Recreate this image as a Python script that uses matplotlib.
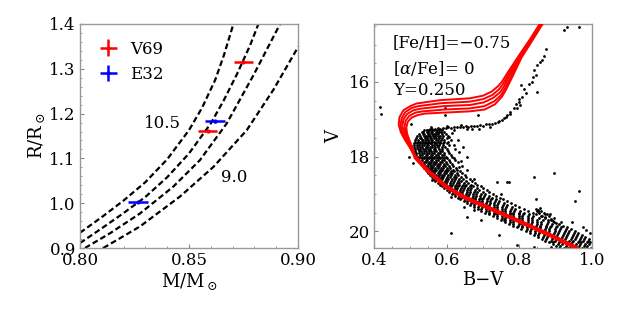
import numpy as np
import matplotlib
matplotlib.use("Agg")
import matplotlib.pyplot as plt
from matplotlib.ticker import AutoMinorLocator, MultipleLocator

plt.rcParams["font.family"] = ["DejaVu Serif"]
plt.rcParams["mathtext.fontset"] = "dejavuserif"

# ---- left panel: mass-radius, isochrones 9.0 .. 10.5 Gyr
iso1_m = [0.800, 0.810, 0.820, 0.830, 0.840, 0.850, 0.856, 0.862, 0.866, 0.8705]
iso1_r = [0.934, 0.969, 1.006, 1.047, 1.098, 1.163, 1.213, 1.275, 1.330, 1.402]
iso2_m = [0.800, 0.810, 0.820, 0.830, 0.840, 0.850, 0.860, 0.866, 0.872, 0.878, 0.882]
iso2_r = [0.911, 0.944, 0.978, 1.014, 1.058, 1.111, 1.178, 1.230, 1.288, 1.352, 1.402]
iso3_m = [0.8023, 0.8138, 0.8275, 0.8428, 0.855, 0.8673, 0.8795, 0.8920]
iso3_r = [0.900, 0.933, 0.977, 1.037, 1.096, 1.178, 1.285, 1.402]
iso4_m = [0.8107, 0.8275, 0.8459, 0.8612, 0.8765, 0.8887, 0.9001]
iso4_r = [0.900, 0.948, 1.015, 1.081, 1.163, 1.253, 1.349]

v69_m = [0.875, 0.8585]
v69_r = [1.315, 1.161]
v69_merr = [0.0045, 0.0045]
v69_rerr = [0.003, 0.003]
e32_m = [0.862, 0.8265]
e32_r = [1.183, 1.003]
e32_merr = [0.0045, 0.0045]
e32_rerr = [0.003, 0.003]

# ---- right panel: CMD
# shared lower main sequence of the isochrones
ms_bv = [0.960, 0.884, 0.792, 0.698, 0.650, 0.598, 0.550, 0.512]
ms_v = [20.46, 20.10, 19.70, 19.30, 19.10, 18.80, 18.40, 18.00]
isoA_bv = [0.498, 0.485, 0.474, 0.468, 0.470, 0.481, 0.500, 0.517, 0.582, 0.664, 0.700, 0.724, 0.741, 0.752, 0.768, 0.785, 0.804, 0.830, 0.858]
isoA_v = [17.75, 17.55, 17.35, 17.15, 16.95, 16.76, 16.65, 16.58, 16.49, 16.44, 16.37, 16.26, 16.12, 16.00, 15.75, 15.50, 15.22, 14.85, 14.42]
isoB_bv = [0.500, 0.488, 0.478, 0.473, 0.476, 0.486, 0.504, 0.522, 0.586, 0.664, 0.701, 0.726, 0.744, 0.755, 0.770, 0.786, 0.805, 0.831, 0.860]
isoB_v = [17.75, 17.55, 17.36, 17.17, 16.98, 16.81, 16.70, 16.65, 16.57, 16.53, 16.46, 16.35, 16.20, 16.06, 15.80, 15.55, 15.26, 14.87, 14.42]
isoC_bv = [0.502, 0.491, 0.483, 0.478, 0.481, 0.491, 0.509, 0.527, 0.591, 0.664, 0.702, 0.728, 0.747, 0.758, 0.771, 0.787, 0.805, 0.832, 0.862]
isoC_v = [17.75, 17.55, 17.37, 17.19, 17.01, 16.86, 16.76, 16.72, 16.65, 16.62, 16.55, 16.43, 16.28, 16.12, 15.86, 15.60, 15.29, 14.89, 14.42]
isoD_bv = [0.504, 0.494, 0.487, 0.484, 0.487, 0.497, 0.515, 0.534, 0.596, 0.664, 0.704, 0.731, 0.750, 0.761, 0.773, 0.788, 0.806, 0.833, 0.864]
isoD_v = [17.75, 17.55, 17.37, 17.20, 17.04, 16.91, 16.82, 16.79, 16.74, 16.71, 16.65, 16.52, 16.35, 16.17, 15.93, 15.65, 15.32, 14.90, 14.42]
isoE_bv = [0.506, 0.497, 0.491, 0.489, 0.493, 0.503, 0.520, 0.540, 0.600, 0.664, 0.705, 0.733, 0.752, 0.764, 0.774, 0.789, 0.806, 0.834, 0.866]
isoE_v = [17.75, 17.55, 17.38, 17.22, 17.07, 16.96, 16.89, 16.85, 16.82, 16.79, 16.74, 16.60, 16.40, 16.20, 16.00, 15.70, 15.35, 14.92, 14.42]

# cluster stars, main sequence band read row by row (V, list of B-V)
ms_rows = [
    (17.30, [0.538, 0.547, 0.552, 0.560, 0.565, 0.573, 0.578, 0.587]),
    (17.35, [0.531, 0.536, 0.546, 0.550, 0.557, 0.561, 0.570, 0.574, 0.584, 0.593]),
    (17.40, [0.524, 0.534, 0.539, 0.548, 0.552, 0.559, 0.564, 0.572, 0.577, 0.587, 0.598]),
    (17.45, [0.519, 0.527, 0.537, 0.542, 0.550, 0.555, 0.562, 0.567, 0.575, 0.581, 0.591, 0.603]),
    (17.50, [0.516, 0.526, 0.530, 0.540, 0.545, 0.553, 0.557, 0.566, 0.570, 0.580, 0.587, 0.600]),
    (17.55, [0.514, 0.521, 0.531, 0.535, 0.543, 0.548, 0.556, 0.561, 0.570, 0.575, 0.585, 0.594, 0.611]),
    (17.60, [0.512, 0.521, 0.526, 0.535, 0.540, 0.548, 0.552, 0.561, 0.566, 0.575, 0.581, 0.592, 0.604]),
    (17.65, [0.511, 0.518, 0.527, 0.532, 0.540, 0.545, 0.553, 0.558, 0.567, 0.572, 0.582, 0.589, 0.601]),
    (17.70, [0.510, 0.519, 0.524, 0.533, 0.537, 0.546, 0.550, 0.559, 0.564, 0.573, 0.579, 0.590, 0.606]),
    (17.75, [0.511, 0.518, 0.528, 0.533, 0.542, 0.547, 0.555, 0.560, 0.569, 0.575, 0.586, 0.596]),
    (17.80, [0.512, 0.521, 0.527, 0.536, 0.541, 0.550, 0.555, 0.564, 0.569, 0.579, 0.586, 0.601, 0.622]),
    (17.85, [0.513, 0.523, 0.529, 0.538, 0.543, 0.552, 0.557, 0.566, 0.571, 0.581, 0.588, 0.604]),
    (17.90, [0.515, 0.523, 0.533, 0.538, 0.547, 0.552, 0.561, 0.566, 0.575, 0.581, 0.593, 0.606]),
    (17.95, [0.517, 0.527, 0.533, 0.542, 0.547, 0.556, 0.561, 0.570, 0.576, 0.586, 0.594, 0.611]),
    (18.00, [0.520, 0.528, 0.537, 0.542, 0.551, 0.556, 0.565, 0.570, 0.580, 0.587, 0.599, 0.614]),
    (18.05, [0.522, 0.532, 0.538, 0.547, 0.552, 0.561, 0.566, 0.575, 0.581, 0.592, 0.601, 0.621]),
    (18.10, [0.525, 0.533, 0.542, 0.547, 0.556, 0.561, 0.570, 0.576, 0.586, 0.593, 0.607, 0.624]),
    (18.15, [0.528, 0.538, 0.543, 0.552, 0.557, 0.566, 0.571, 0.581, 0.587, 0.598, 0.608, 0.631]),
    (18.20, [0.531, 0.539, 0.548, 0.553, 0.562, 0.567, 0.577, 0.583, 0.593, 0.600, 0.614]),
    (18.25, [0.535, 0.544, 0.549, 0.558, 0.563, 0.573, 0.579, 0.589, 0.595, 0.607, 0.617, 0.641]),
    (18.30, [0.538, 0.546, 0.555, 0.560, 0.569, 0.575, 0.585, 0.591, 0.602, 0.610, 0.625]),
    (18.35, [0.542, 0.551, 0.557, 0.566, 0.572, 0.582, 0.588, 0.598, 0.605, 0.617, 0.629]),
    (18.40, [0.546, 0.553, 0.563, 0.569, 0.579, 0.585, 0.595, 0.601, 0.612, 0.620, 0.637]),
    (18.45, [0.550, 0.560, 0.566, 0.576, 0.582, 0.592, 0.598, 0.608, 0.615, 0.628, 0.641]),
    (18.50, [0.554, 0.562, 0.572, 0.578, 0.588, 0.594, 0.605, 0.612, 0.623, 0.632, 0.651]),
    (18.55, [0.559, 0.569, 0.575, 0.585, 0.591, 0.601, 0.608, 0.619, 0.627, 0.640, 0.654]),
    (18.60, [0.564, 0.572, 0.582, 0.588, 0.598, 0.605, 0.616, 0.623, 0.635, 0.645, 0.663]),
    (18.65, [0.569, 0.579, 0.585, 0.595, 0.602, 0.613, 0.620, 0.631, 0.639, 0.653, 0.669]),
    (18.70, [0.575, 0.583, 0.593, 0.599, 0.610, 0.617, 0.628, 0.635, 0.648, 0.658, 0.678]),
    (18.75, [0.581, 0.591, 0.597, 0.608, 0.615, 0.626, 0.633, 0.644, 0.653, 0.667, 0.684]),
    (18.80, [0.587, 0.595, 0.606, 0.613, 0.624, 0.631, 0.642, 0.650, 0.663, 0.673, 0.694]),
    (18.85, [0.594, 0.604, 0.611, 0.622, 0.629, 0.640, 0.647, 0.659, 0.668, 0.683, 0.700]),
    (18.90, [0.600, 0.609, 0.620, 0.627, 0.638, 0.645, 0.657, 0.665, 0.678, 0.689, 0.711]),
    (18.95, [0.607, 0.618, 0.625, 0.636, 0.643, 0.655, 0.663, 0.675, 0.684, 0.699, 0.717]),
    (19.00, [0.615, 0.624, 0.635, 0.642, 0.653, 0.661, 0.673, 0.681, 0.695, 0.706, 0.728, 0.749]),
    (19.05, [0.622, 0.633, 0.641, 0.652, 0.660, 0.672, 0.680, 0.692, 0.702, 0.717, 0.735]),
    (19.10, [0.630, 0.639, 0.651, 0.659, 0.671, 0.679, 0.691, 0.699, 0.713, 0.725, 0.747]),
    (19.15, [0.638, 0.650, 0.658, 0.670, 0.678, 0.690, 0.698, 0.711, 0.721, 0.737, 0.755]),
    (19.20, [0.647, 0.657, 0.669, 0.677, 0.689, 0.697, 0.710, 0.719, 0.733, 0.745, 0.767]),
    (19.25, [0.656, 0.668, 0.676, 0.688, 0.696, 0.709, 0.718, 0.731, 0.741, 0.758, 0.776]),
    (19.30, [0.665, 0.675, 0.688, 0.696, 0.708, 0.717, 0.730, 0.739, 0.754, 0.767, 0.789]),
    (19.35, [0.675, 0.687, 0.696, 0.708, 0.716, 0.729, 0.738, 0.752, 0.763, 0.780, 0.799]),
    (19.40, [0.685, 0.695, 0.708, 0.716, 0.729, 0.738, 0.751, 0.761, 0.776, 0.789, 0.813]),
    (19.45, [0.695, 0.707, 0.716, 0.729, 0.738, 0.751, 0.760, 0.774, 0.785, 0.803, 0.823, 0.851]),
    (19.50, [0.706, 0.716, 0.729, 0.738, 0.751, 0.760, 0.774, 0.784, 0.799, 0.813, 0.837]),
    (19.55, [0.716, 0.729, 0.738, 0.751, 0.760, 0.774, 0.784, 0.798, 0.809, 0.827, 0.847, 0.871]),
    (19.60, [0.727, 0.738, 0.751, 0.761, 0.774, 0.784, 0.798, 0.808, 0.824, 0.838, 0.861]),
    (19.65, [0.738, 0.751, 0.761, 0.774, 0.784, 0.798, 0.808, 0.823, 0.835, 0.853, 0.872, 0.896]),
    (19.70, [0.749, 0.760, 0.774, 0.784, 0.798, 0.808, 0.823, 0.834, 0.850, 0.864, 0.886]),
    (19.75, [0.760, 0.774, 0.784, 0.798, 0.808, 0.823, 0.834, 0.849, 0.861, 0.879, 0.896, 0.916]),
    (19.80, [0.772, 0.783, 0.798, 0.808, 0.822, 0.833, 0.848, 0.860, 0.876, 0.890, 0.910]),
    (19.85, [0.783, 0.797, 0.807, 0.822, 0.832, 0.847, 0.858, 0.874, 0.887, 0.904, 0.919]),
    (19.90, [0.795, 0.807, 0.821, 0.832, 0.846, 0.857, 0.873, 0.885, 0.901, 0.914, 0.932]),
    (19.95, [0.806, 0.820, 0.831, 0.845, 0.856, 0.871, 0.883, 0.899, 0.911, 0.928, 0.941]),
    (20.00, [0.818, 0.830, 0.844, 0.855, 0.870, 0.881, 0.897, 0.909, 0.925, 0.937, 0.953]),
    (20.05, [0.829, 0.843, 0.854, 0.869, 0.880, 0.895, 0.907, 0.922, 0.934, 0.950, 0.961]),
    (20.10, [0.840, 0.852, 0.867, 0.878, 0.893, 0.904, 0.920, 0.931, 0.947, 0.958, 0.973]),
    (20.15, [0.851, 0.865, 0.876, 0.891, 0.902, 0.917, 0.929, 0.944, 0.955, 0.970, 0.980]),
    (20.20, [0.862, 0.874, 0.889, 0.900, 0.915, 0.926, 0.941, 0.952, 0.967, 0.977, 0.991]),
    (20.25, [0.872, 0.886, 0.897, 0.912, 0.923, 0.938, 0.949, 0.964, 0.975, 0.989]),
    (20.30, [0.882, 0.894, 0.909, 0.920, 0.935, 0.946, 0.961, 0.971, 0.985, 0.995]),
    (20.35, [0.892, 0.906, 0.917, 0.932, 0.943, 0.957, 0.967, 0.981, 0.992]),
    (20.40, [0.901, 0.913, 0.928, 0.939, 0.953, 0.963, 0.977, 0.987]),
    (20.45, [0.910, 0.924, 0.935, 0.949, 0.959, 0.973, 0.983, 0.996]),
]

# subgiant branch
sgb_bv = [0.545, 0.553, 0.560, 0.568, 0.575, 0.582, 0.590, 0.597, 0.605, 0.612, 0.620, 0.628, 0.636,
          0.644, 0.652, 0.660, 0.668, 0.676, 0.684, 0.692, 0.700, 0.708, 0.716, 0.724, 0.732, 0.740,
          0.600, 0.640, 0.670, 0.620, 0.690, 0.720, 0.580, 0.556, 0.655]
sgb_v = [17.28, 17.27, 17.25, 17.26, 17.24, 17.25, 17.23, 17.24, 17.22, 17.23, 17.21, 17.22, 17.20,
         17.21, 17.19, 17.20, 17.18, 17.19, 17.17, 17.16, 17.17, 17.14, 17.12, 17.13, 17.11, 17.08,
         17.17, 17.15, 17.27, 17.30, 17.25, 17.20, 17.33, 17.22, 17.26]

# red giant branch
rgb_bv = [0.744, 0.753, 0.757, 0.762, 0.767, 0.775, 0.773, 0.786, 0.795, 0.790, 0.799, 0.808, 0.800,
          0.804, 0.813, 0.850, 0.836, 0.838, 0.845, 0.840, 0.850, 0.863, 0.873, 0.868, 0.857, 0.923,
          0.932, 0.964, 0.802, 0.827, 0.818]
rgb_v = [17.05, 17.02, 16.96, 16.93, 16.89, 16.85, 16.80, 16.71, 16.71, 16.58, 16.54, 16.40, 16.45,
         16.09, 16.18, 16.27, 16.00, 15.87, 15.82, 15.69, 15.55, 15.42, 15.13, 15.30, 15.47, 14.62,
         14.53, 14.53, 16.62, 16.05, 16.30]

# field stars, binaries and stragglers
field_bv = [0.595, 0.595, 0.687, 0.417, 0.419, 0.501, 0.507, 0.611, 0.840, 0.895, 0.963, 0.952,
            0.739, 0.772, 0.845, 0.976, 0.995, 0.765, 0.946, 0.983, 0.744, 0.758, 0.795, 0.840,
            0.914, 0.886, 0.560, 0.611, 0.648, 0.675, 0.657, 0.694, 0.606, 0.620, 0.634, 0.615,
            0.630, 0.645, 0.655, 0.640, 0.634, 0.657, 0.675, 0.496, 0.845, 0.852, 0.860, 0.868,
            0.855, 0.875, 0.863, 0.882, 0.870, 0.888, 0.878, 0.893, 0.900, 0.885, 0.848, 0.858]
field_v = [16.71, 16.89, 16.89, 16.67, 16.85, 17.14, 18.18, 20.05, 18.56, 18.44, 18.93, 19.18,
           18.68, 18.69, 19.14, 19.88, 20.06, 18.68, 19.75, 19.97, 20.10, 19.70, 20.37, 20.42,
           20.24, 20.42, 18.63, 19.08, 19.36, 19.44, 19.61, 19.70, 17.47, 17.69, 17.87, 17.38,
           17.55, 17.75, 18.00, 18.12, 18.27, 18.36, 18.59, 18.00, 19.40, 19.43, 19.47, 19.50,
           19.52, 19.55, 19.58, 19.60, 19.63, 19.66, 19.70, 19.73, 19.78, 19.55, 19.47, 19.37]

star_bv = [b for v, row in ms_rows for b in row] + sgb_bv + rgb_bv + field_bv
star_v = [v for v, row in ms_rows for _ in row] + sgb_v + rgb_v + field_v

fig = plt.figure(figsize=(6.23, 3.12), dpi=100)
ax1 = fig.add_axes([0.1284, 0.2051, 0.3499, 0.718])
ax2 = fig.add_axes([0.6003, 0.2051, 0.3499, 0.718])

dash = (0, (2.6, 1.4))
for m, r in [(iso1_m, iso1_r), (iso2_m, iso2_r), (iso3_m, iso3_r), (iso4_m, iso4_r)]:
    ax1.plot(m, r, color="black", lw=1.6, linestyle=dash)

h1 = ax1.errorbar(v69_m, v69_r, xerr=v69_merr, yerr=v69_rerr, fmt="o", ms=2,
                  color="red", elinewidth=1.8, capsize=0, label="V69")
h2 = ax1.errorbar(e32_m, e32_r, xerr=e32_merr, yerr=e32_rerr, fmt="o", ms=2,
                  color="blue", elinewidth=1.8, capsize=0, label="E32")
ax1.legend(handles=[h1, h2], loc="upper left", frameon=False, fontsize=12,
           handlelength=1.4, borderaxespad=0.6, handletextpad=0.6, labelspacing=0.5)
ax1.text(0.838, 1.179, "10.5", fontsize=12, ha="center", va="center")
ax1.text(0.8706, 1.058, "9.0", fontsize=12, ha="center", va="center")

ax1.set_xlim(0.80, 0.90)
ax1.set_ylim(0.9, 1.4)
ax1.xaxis.set_major_locator(MultipleLocator(0.05))
ax1.yaxis.set_major_locator(MultipleLocator(0.1))
ax1.set_xticks([0.80, 0.85, 0.90], ["0.80", "0.85", "0.90"])
ax1.set_xlabel(r"M/M$_\odot$", fontsize=13, labelpad=1)
ax1.set_ylabel(r"R/R$_\odot$", fontsize=13, labelpad=2)

ax2.plot(ms_bv, ms_v, color="red", lw=3.0, zorder=3, solid_capstyle="butt")
for m_bv, m_v in [(isoA_bv, isoA_v), (isoB_bv, isoB_v), (isoC_bv, isoC_v),
                  (isoD_bv, isoD_v), (isoE_bv, isoE_v)]:
    ax2.plot(ms_bv + m_bv, ms_v + m_v, color="red", lw=1.4, zorder=3)
ax2.scatter(star_bv, star_v, s=4.0, color="black", linewidths=0, zorder=2)

ax2.text(0.087, 0.914, "[Fe/H]=\u22120.75", transform=ax2.transAxes, fontsize=12, va="center")
ax2.text(0.087, 0.802, r"[$\alpha$/Fe]= 0", transform=ax2.transAxes, fontsize=12, va="center")
ax2.text(0.087, 0.705, "Y=0.250", transform=ax2.transAxes, fontsize=12, va="center")

ax2.set_xlim(0.4, 1.0)
ax2.set_ylim(20.45, 14.45)
ax2.set_xticks([0.4, 0.6, 0.8, 1.0])
ax2.set_yticks([16, 18, 20])
ax2.set_xlabel("B\u2212V", fontsize=13, labelpad=1)
ax2.set_ylabel("V", fontsize=13, labelpad=4)

for ax in (ax1, ax2):
    ax.xaxis.set_minor_locator(AutoMinorLocator())
    ax.yaxis.set_minor_locator(AutoMinorLocator())
    ax.tick_params(which="both", direction="in", colors="#888888", labelcolor="black",
                   labelsize=12, pad=3)
    ax.tick_params(which="major", length=3)
    ax.tick_params(which="minor", length=1.5)
    for s in ax.spines.values():
        s.set_color("#999999")
        s.set_linewidth(1.0)

fig.savefig("out.png", dpi=100)
